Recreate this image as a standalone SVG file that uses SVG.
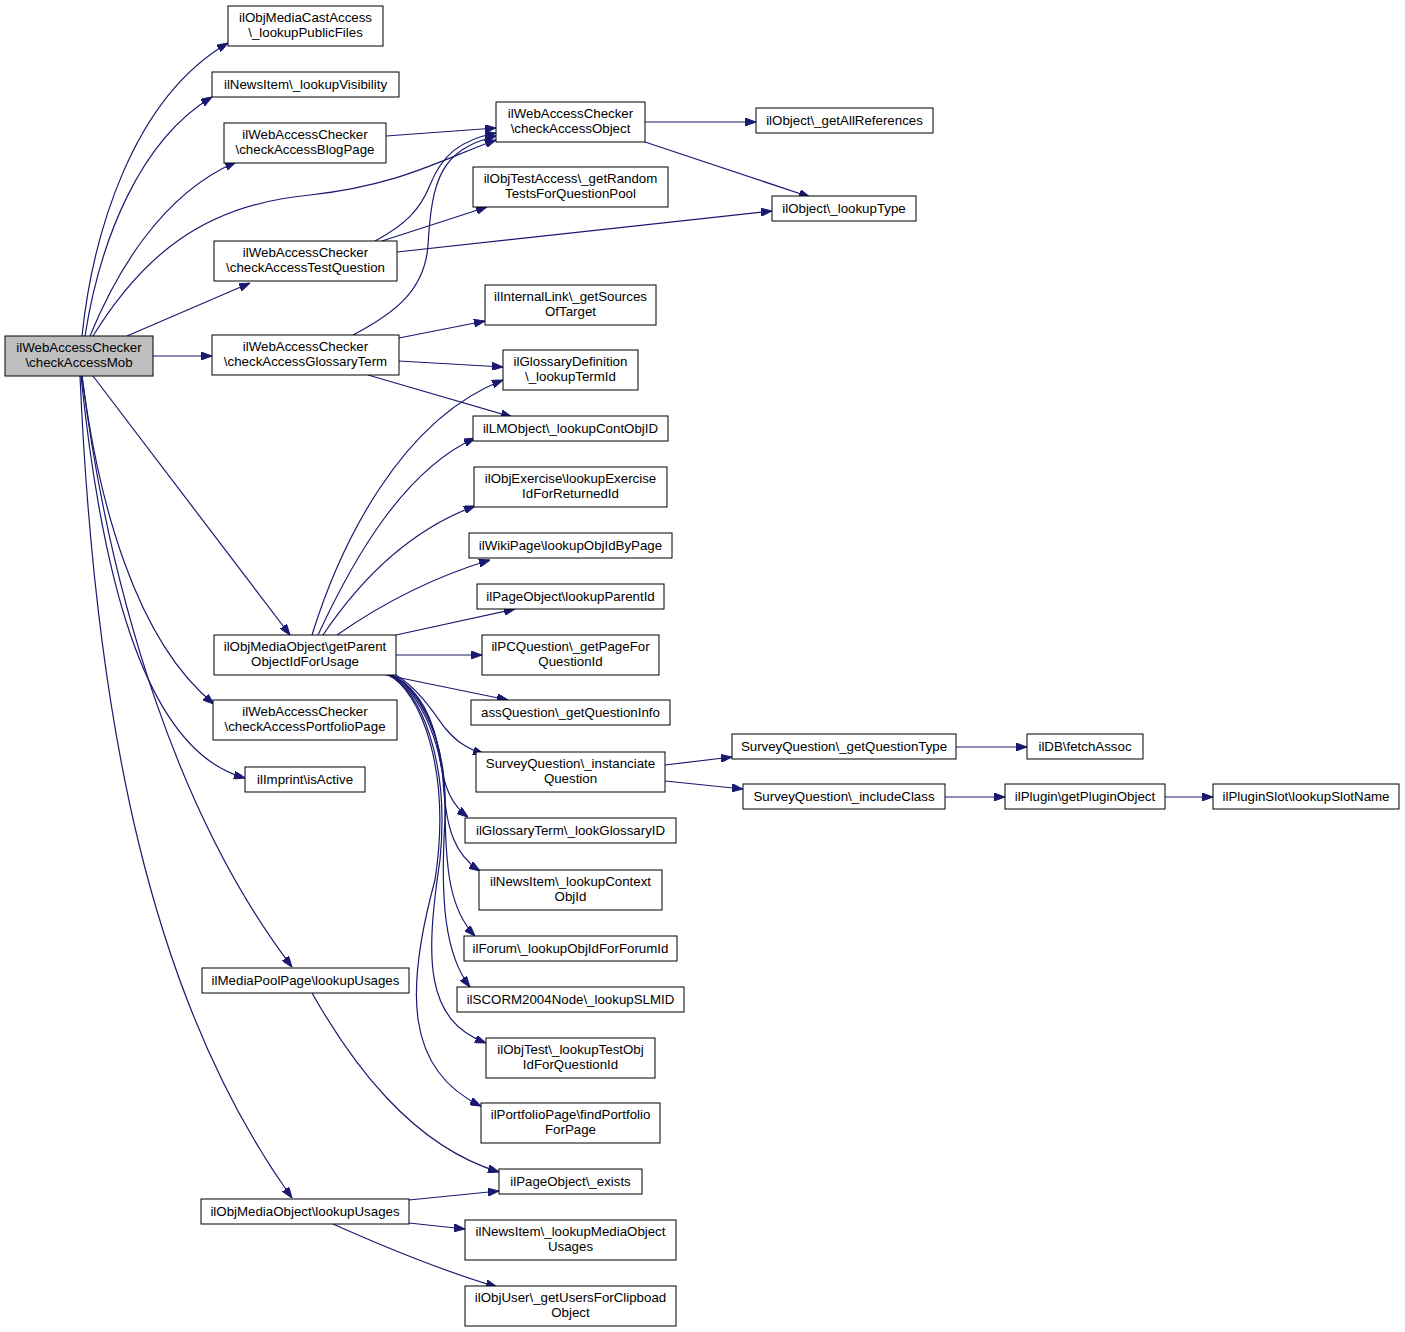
<svg xmlns="http://www.w3.org/2000/svg" width="1405" height="1332" viewBox="0 0 1405 1332">
<style>
.n rect{fill:#fff;stroke:#000;stroke-width:1}
.root rect{fill:#bfbfbf}
text{font-family:"Liberation Sans",Arial,sans-serif;font-size:13.3px;fill:#000;text-anchor:middle}
.e path{fill:none;stroke:#191970;stroke-width:1.2;marker-end:url(#a)}
</style>
<defs>
<marker id="a" markerUnits="userSpaceOnUse" markerWidth="11" markerHeight="8" refX="11" refY="4" orient="auto">
<path d="M0,0 L11,4 L0,8 z" fill="#191970" stroke="#191970" stroke-width="1"/>
</marker>
</defs>
<rect width="1405" height="1332" fill="#fff"/>
<g class="e" id="edges">
<path d="M82,336 C92,240 130,100 228,43"/>
<path d="M85,336 C100,240 140,140 212,97"/>
<path d="M90,336 C115,275 160,195 236,162"/>
<path d="M93,336 C140,260 200,205 310,195 C400,185 440,160 496,140"/>
<path d="M127,336 L250,283"/>
<path d="M153,356 L212,356"/>
<path d="M93,376 L290,635"/>
<path d="M82,376 C98,500 135,640 214,704"/>
<path d="M81,376 C100,560 140,750 245,778"/>
<path d="M82,376 C110,600 180,820 292,967"/>
<path d="M80,376 C95,720 150,1000 292,1198"/>
<path d="M386,136 L496,128"/>
<path d="M375,241 C405,225 420,210 430,185 C442,155 460,140 496,133"/>
<path d="M382,241 L487,207"/>
<path d="M397,252 L772,211"/>
<path d="M353,335 C395,313 425,290 428,245 C432,180 440,150 496,136"/>
<path d="M399,338 L485,321"/>
<path d="M399,361 L503,367"/>
<path d="M368,375 L512,417"/>
<path d="M645,122 L756,122"/>
<path d="M645,142 L810,197"/>
<path d="M312,635 C340,545 400,420 503,380"/>
<path d="M318,635 C355,555 405,470 475,438"/>
<path d="M323,635 C360,580 410,530 475,506"/>
<path d="M337,635 C380,605 430,578 490,560"/>
<path d="M396,635 L515,609"/>
<path d="M396,655 L482,655"/>
<path d="M386,675 L508,700"/>
<path d="M396,675 C420,690 435,715 445,728 C455,740 465,748 484,754"/>
<path d="M393,675 C420,690 435,720 440,760 C445,790 452,805 468,817"/>
<path d="M392,675 C420,690 440,730 443,780 C446,830 455,855 480,871"/>
<path d="M391,675 C420,690 445,740 445,800 C445,870 450,910 475,936"/>
<path d="M390,675 C420,690 448,750 445,820 C440,900 445,955 470,987"/>
<path d="M389,675 C420,690 450,760 440,860 C425,960 425,1020 486,1043"/>
<path d="M388,675 C420,690 452,770 435,880 C405,990 405,1070 481,1106"/>
<path d="M312,993 C350,1060 410,1145 499,1172"/>
<path d="M409,1200 L499,1191"/>
<path d="M409,1223 L465,1229"/>
<path d="M333,1224 C380,1245 440,1270 497,1287"/>
<path d="M665,765 L732,757"/>
<path d="M665,781 L743,789"/>
<path d="M956,747 L1027,747"/>
<path d="M945,797 L1005,797"/>
<path d="M1165,797 L1213,797"/>
</g>
<g class="n root" id="n_mob"><rect x="5" y="336" width="148" height="40"/><text x="79" y="352">ilWebAccessChecker</text><text x="79" y="367">\checkAccessMob</text></g>
<g class="n" id="n_castfiles"><rect x="228" y="6" width="155" height="40"/><text x="305.5" y="22">ilObjMediaCastAccess</text><text x="305.5" y="37">\_lookupPublicFiles</text></g>
<g class="n" id="n_newsvis"><rect x="212" y="72" width="187" height="25"/><text x="305.5" y="89">ilNewsItem\_lookupVisibility</text></g>
<g class="n" id="n_blog"><rect x="224" y="123" width="162" height="40"/><text x="305" y="139">ilWebAccessChecker</text><text x="305" y="154">\checkAccessBlogPage</text></g>
<g class="n" id="n_testq"><rect x="214" y="241" width="183" height="40"/><text x="305.5" y="257">ilWebAccessChecker</text><text x="305.5" y="272">\checkAccessTestQuestion</text></g>
<g class="n" id="n_gloss"><rect x="212" y="335" width="187" height="40"/><text x="305.5" y="351">ilWebAccessChecker</text><text x="305.5" y="366">\checkAccessGlossaryTerm</text></g>
<g class="n" id="n_parent"><rect x="214" y="635" width="182" height="40"/><text x="305" y="651">ilObjMediaObject\getParent</text><text x="305" y="666">ObjectIdForUsage</text></g>
<g class="n" id="n_portfolio"><rect x="213" y="700" width="184" height="40"/><text x="305" y="716">ilWebAccessChecker</text><text x="305" y="731">\checkAccessPortfolioPage</text></g>
<g class="n" id="n_imprint"><rect x="245" y="767" width="120" height="25"/><text x="305" y="784">ilImprint\isActive</text></g>
<g class="n" id="n_mpusages"><rect x="202" y="968" width="207" height="25"/><text x="305.5" y="985">ilMediaPoolPage\lookupUsages</text></g>
<g class="n" id="n_mousages"><rect x="201" y="1199" width="208" height="25"/><text x="305" y="1216">ilObjMediaObject\lookupUsages</text></g>
<g class="n" id="n_object"><rect x="496" y="102" width="149" height="40"/><text x="570.5" y="118">ilWebAccessChecker</text><text x="570.5" y="133">\checkAccessObject</text></g>
<g class="n" id="n_random"><rect x="473" y="167" width="195" height="40"/><text x="570.5" y="183">ilObjTestAccess\_getRandom</text><text x="570.5" y="198">TestsForQuestionPool</text></g>
<g class="n" id="n_intlink"><rect x="485" y="285" width="171" height="40"/><text x="570.5" y="301">ilInternalLink\_getSources</text><text x="570.5" y="316">OfTarget</text></g>
<g class="n" id="n_glossdef"><rect x="503" y="350" width="135" height="40"/><text x="570.5" y="366">ilGlossaryDefinition</text><text x="570.5" y="381">\_lookupTermId</text></g>
<g class="n" id="n_lmobj"><rect x="473" y="416" width="195" height="25"/><text x="570.5" y="433">ilLMObject\_lookupContObjID</text></g>
<g class="n" id="n_exercise"><rect x="474" y="467" width="193" height="40"/><text x="570.5" y="483">ilObjExercise\lookupExercise</text><text x="570.5" y="498">IdForReturnedId</text></g>
<g class="n" id="n_wiki"><rect x="469" y="533" width="203" height="25"/><text x="570.5" y="550">ilWikiPage\lookupObjIdByPage</text></g>
<g class="n" id="n_parentid"><rect x="477" y="584" width="187" height="25"/><text x="570.5" y="601">ilPageObject\lookupParentId</text></g>
<g class="n" id="n_pcq"><rect x="482" y="635" width="177" height="40"/><text x="570.5" y="651">ilPCQuestion\_getPageFor</text><text x="570.5" y="666">QuestionId</text></g>
<g class="n" id="n_assq"><rect x="471" y="700" width="199" height="25"/><text x="570.5" y="717">assQuestion\_getQuestionInfo</text></g>
<g class="n" id="n_inst"><rect x="476" y="752" width="189" height="40"/><text x="570.5" y="768">SurveyQuestion\_instanciate</text><text x="570.5" y="783">Question</text></g>
<g class="n" id="n_glossterm"><rect x="465" y="818" width="211" height="25"/><text x="570.5" y="835">ilGlossaryTerm\_lookGlossaryID</text></g>
<g class="n" id="n_newsctx"><rect x="479" y="870" width="183" height="40"/><text x="570.5" y="886">ilNewsItem\_lookupContext</text><text x="570.5" y="901">ObjId</text></g>
<g class="n" id="n_forum"><rect x="464" y="936" width="213" height="25"/><text x="570.5" y="953">ilForum\_lookupObjIdForForumId</text></g>
<g class="n" id="n_scorm"><rect x="457" y="987" width="227" height="25"/><text x="570.5" y="1004">ilSCORM2004Node\_lookupSLMID</text></g>
<g class="n" id="n_objtest"><rect x="486" y="1038" width="169" height="40"/><text x="570.5" y="1054">ilObjTest\_lookupTestObj</text><text x="570.5" y="1069">IdForQuestionId</text></g>
<g class="n" id="n_findport"><rect x="481" y="1103" width="179" height="40"/><text x="570.5" y="1119">ilPortfolioPage\findPortfolio</text><text x="570.5" y="1134">ForPage</text></g>
<g class="n" id="n_exists"><rect x="499" y="1169" width="143" height="25"/><text x="570.5" y="1186">ilPageObject\_exists</text></g>
<g class="n" id="n_newsmo"><rect x="465" y="1220" width="211" height="40"/><text x="570.5" y="1236">ilNewsItem\_lookupMediaObject</text><text x="570.5" y="1251">Usages</text></g>
<g class="n" id="n_clip"><rect x="465" y="1286" width="211" height="40"/><text x="570.5" y="1302">ilObjUser\_getUsersForClipboad</text><text x="570.5" y="1317">Object</text></g>
<g class="n" id="n_allrefs"><rect x="756" y="108" width="177" height="25"/><text x="844.5" y="125">ilObject\_getAllReferences</text></g>
<g class="n" id="n_type"><rect x="772" y="196" width="144" height="25"/><text x="844" y="213">ilObject\_lookupType</text></g>
<g class="n" id="n_qtype"><rect x="732" y="734" width="224" height="25"/><text x="844" y="751">SurveyQuestion\_getQuestionType</text></g>
<g class="n" id="n_incl"><rect x="743" y="784" width="202" height="25"/><text x="844" y="801">SurveyQuestion\_includeClass</text></g>
<g class="n" id="n_fetch"><rect x="1027" y="734" width="116" height="25"/><text x="1085" y="751">ilDB\fetchAssoc</text></g>
<g class="n" id="n_plugin"><rect x="1005" y="784" width="160" height="25"/><text x="1085" y="801">ilPlugin\getPluginObject</text></g>
<g class="n" id="n_slot"><rect x="1213" y="784" width="186" height="25"/><text x="1306" y="801">ilPluginSlot\lookupSlotName</text></g>
</svg>
